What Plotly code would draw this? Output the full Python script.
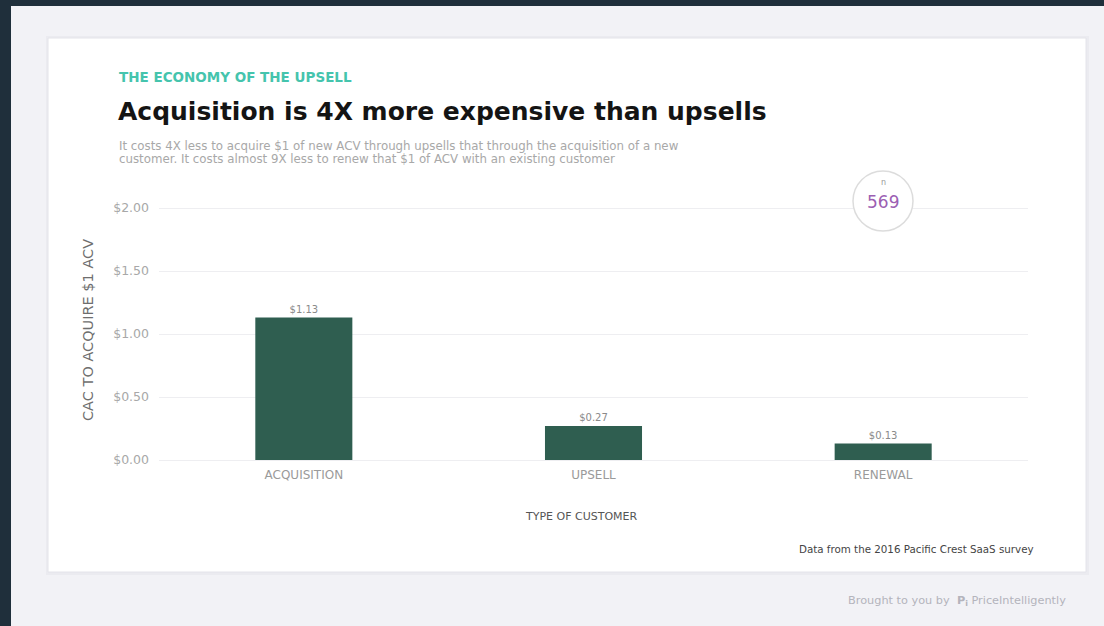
import plotly.graph_objects as go

# Data
categories = ["ACQUISITION", "UPSELL", "RENEWAL"]
cac_values = [1.13, 0.27, 0.13]
value_labels = ["$1.13", "$0.27", "$0.13"]
y_tick_vals = [0.0, 0.5, 1.0, 1.5, 2.0]
y_tick_text = ["$0.00", "$0.50", "$1.00", "$1.50", "$2.00"]
sample_size = 569
subtitle_lines = [
    "It costs 4X less to acquire $1 of new ACV through upsells that through the acquisition of a new",
    "customer. It costs almost 9X less to renew that $1 of ACV with an existing customer",
]

W, H = 1104, 626
FONT = "DejaVu Sans, Verdana, sans-serif"

# vertical scale: 126 px per $1, $0 baseline at y=460
Y_MIN, Y_MAX = -0.02, 2.03
PX_PER_UNIT = 126
Y_ZERO_PX = 460


def px(x):
    return x / W


def py(y):
    return 1 - y / H


def note(text, x, y, size, color, xanchor="left", **kw):
    return dict(text=text, xref="paper", yref="paper", x=px(x), y=py(y),
                xanchor=xanchor, yanchor="middle", showarrow=False,
                font=dict(size=size, color=color, family=FONT), **kw)


fig = go.Figure()

fig.add_trace(go.Bar(
    x=categories,
    y=cac_values,
    width=0.335,
    marker=dict(color="#2f5e50", line=dict(width=0)),
    text=value_labels,
    textposition="outside",
    textfont=dict(size=10, color="#8a8a8a", family=FONT),
    cliponaxis=False,
    hoverinfo="x+y",
))

shapes = [
    # dark frame strips
    dict(type="rect", xref="paper", yref="paper", x0=0, x1=1, y0=py(6), y1=1,
         fillcolor="#1f2f3b", line=dict(width=0), layer="below"),
    dict(type="rect", xref="paper", yref="paper", x0=0, x1=px(11), y0=0, y1=1,
         fillcolor="#1f2f3b", line=dict(width=0), layer="below"),
    # soft card shadow
    dict(type="rect", xref="paper", yref="paper", x0=px(46), x1=px(1089), y0=py(575), y1=py(36),
         fillcolor="#ebebf0", line=dict(width=0), layer="below"),
    # white card
    dict(type="rect", xref="paper", yref="paper", x0=px(48), x1=px(1086), y0=py(572), y1=py(38),
         fillcolor="#ffffff", line=dict(color="#e4e4ea", width=1), layer="below"),
    # sample-size badge
    dict(type="circle", xref="paper", yref="paper", x0=px(853), x1=px(913), y0=py(231), y1=py(171),
         fillcolor="#ffffff", line=dict(color="#dcdcdc", width=1.5), layer="above"),
]

annotations = [
    note("<b>THE ECONOMY OF THE UPSELL</b>", 117, 77, 13.5, "#45c4ad"),
    note("<b>Acquisition is 4X more expensive than upsells</b>", 116, 111, 25, "#141414"),
    note(subtitle_lines[0], 117, 146, 11.8, "#a8a8a8"),
    note(subtitle_lines[1], 117, 159, 11.8, "#a8a8a8"),
    note("n", 883, 182, 8, "#9a9a9a", xanchor="center"),
    note(str(sample_size), 883, 202, 17, "#9c5fb3", xanchor="center"),
    note("CAC TO ACQUIRE $1 ACV", 88, 330, 14.5, "#6e6e6e", xanchor="center", textangle=-90),
    note("TYPE OF CUSTOMER", 581, 516, 11, "#555555", xanchor="center"),
    note("Data from the 2016 Pacific Crest SaaS survey", 1036, 549, 10.3, "#444444", xanchor="right"),
    note("Brought to you by  <b>P<sub>i</sub></b> PriceIntelligently", 1068, 601, 11.3, "#b4b4bc",
         xanchor="right"),
]

fig.update_layout(
    width=W, height=H, autosize=False,
    margin=dict(l=0, r=0, t=0, b=0),
    paper_bgcolor="#f2f2f6",
    plot_bgcolor="rgba(0,0,0,0)",
    showlegend=False,
    shapes=shapes,
    annotations=annotations,
    xaxis=dict(
        domain=[px(159), px(1028)],
        type="category",
        range=[-0.5, 2.5],
        showgrid=False, zeroline=False, showline=False,
        ticks="", ticklabelstandoff=3,
        tickfont=dict(size=12, color="#9a9a9a", family=FONT),
        automargin=False, fixedrange=True,
    ),
    yaxis=dict(
        domain=[py(Y_ZERO_PX - PX_PER_UNIT * Y_MIN), py(Y_ZERO_PX - PX_PER_UNIT * Y_MAX)],
        range=[Y_MIN, Y_MAX],
        tickvals=y_tick_vals, ticktext=y_tick_text,
        showgrid=True, gridcolor="#eeeef1", gridwidth=1,
        zeroline=False, showline=False,
        ticks="", ticklabelstandoff=9,
        tickfont=dict(size=12.5, color="#a8a8a8", family=FONT),
        automargin=False, fixedrange=True,
    ),
)

fig.write_html("out.html")
